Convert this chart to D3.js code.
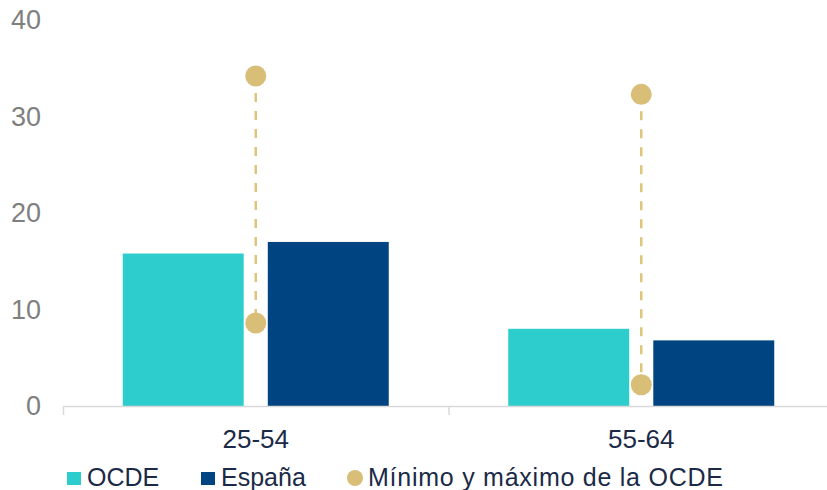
<!DOCTYPE html>
<html>
<head>
<meta charset="utf-8">
<script src="https://cdn.jsdelivr.net/npm/d3@7"></script>
<style>
  body { margin: 0; background: #fff; }
  svg { display: block; font-family: "Liberation Sans", Arial, sans-serif; }
</style>
</head>
<body>
<div id="chart"></div>
<script>
// data
var categories = ["25-54", "55-64"];
var seriesNames = ["OCDE", "España"];
var ocde = [15.8, 8.0];
var espana = [17.0, 6.8];
var ocdeMin = [8.6, 2.2];
var ocdeMax = [34.2, 32.3];
var yTicks = [0, 10, 20, 30, 40];
var legendLabels = ["OCDE", "España", "Mínimo y máximo de la OCDE"];

var width = 827, height = 490;
var colors = { "OCDE": "#2ECDCD", "España": "#004481" };
var dotColor = "#D8BE76";
var textDark = "#1B2A47";

var svg = d3.select("#chart").append("svg")
  .attr("width", width)
  .attr("height", height);

var y = d3.scaleLinear().domain([0, 40]).range([406, 20]);

var x0 = d3.scaleBand().domain(categories).range([63, 834]);
var x1 = d3.scaleBand().domain(seriesNames).range([-133, 133]).paddingInner(0.166);

// y labels
svg.append("g").selectAll("text")
  .data(yTicks)
  .enter().append("text")
  .attr("x", 41)
  .attr("y", function(d){ return y(d); })
  .attr("dy", "0.35em")
  .attr("text-anchor", "end")
  .attr("font-size", 27)
  .attr("fill", "#7F7F7F")
  .text(function(d){ return d; });

// bars
var rows = categories.map(function(c, i){
  return { cat: c, vals: [{ k: "OCDE", v: ocde[i] }, { k: "España", v: espana[i] }] };
});

var groups = svg.append("g").selectAll("g")
  .data(rows)
  .enter().append("g")
  .attr("transform", function(d){ return "translate(" + (x0(d.cat) + x0.bandwidth() / 2) + ",0)"; });

groups.selectAll("rect")
  .data(function(d){ return d.vals; })
  .enter().append("rect")
  .attr("x", function(d){ return x1(d.k); })
  .attr("width", x1.bandwidth())
  .attr("y", function(d){ return y(d.v); })
  .attr("height", function(d){ return y(0) - y(d.v); })
  .attr("fill", function(d){ return colors[d.k]; });

// x axis
var axis = svg.append("g");
axis.append("line")
  .attr("x1", 63).attr("x2", width)
  .attr("y1", 406.5).attr("y2", 406.5)
  .attr("stroke", "#D9D9D9").attr("stroke-width", 1.5);
axis.selectAll(".tk")
  .data([x0.range()[0]].concat(categories.slice(1).map(function(c){ return x0(c); })))
  .enter().append("line")
  .attr("class", "tk")
  .attr("x1", function(d){ return d + 0.5; }).attr("x2", function(d){ return d + 0.5; })
  .attr("y1", 406).attr("y2", 415)
  .attr("stroke", "#D9D9D9").attr("stroke-width", 1.5);
axis.selectAll("text")
  .data(categories)
  .enter().append("text")
  .attr("x", function(d){ return x0(d) + x0.bandwidth() / 2; })
  .attr("y", 448)
  .attr("text-anchor", "middle")
  .attr("font-size", 26)
  .attr("fill", textDark)
  .text(function(d){ return d; });

// min-max range
var ranges = categories.map(function(c, i){ return { cat: c, lo: ocdeMin[i], hi: ocdeMax[i] }; });
var rg = svg.append("g").selectAll("g")
  .data(ranges)
  .enter().append("g")
  .attr("transform", function(d){ return "translate(" + (x0(d.cat) + x0.bandwidth() / 2) + ",0)"; });

rg.append("line")
  .attr("x1", 0).attr("x2", 0)
  .attr("y1", function(d){ return y(d.hi) + 17; })
  .attr("y2", function(d){ return y(d.lo); })
  .attr("stroke", "#DEC57C")
  .attr("stroke-width", 2.5)
  .attr("stroke-dasharray", "9,9");

rg.selectAll("circle")
  .data(function(d){ return [d.hi, d.lo]; })
  .enter().append("circle")
  .attr("cx", 0)
  .attr("cy", function(d){ return y(d); })
  .attr("r", 10.5)
  .attr("fill", dotColor);

// legend
var legend = svg.append("g");
var lx = [67, 201, 347];
legend.append("rect").attr("x", lx[0]).attr("y", 472).attr("width", 14).attr("height", 13).attr("fill", colors["OCDE"]);
legend.append("rect").attr("x", lx[1]).attr("y", 472).attr("width", 14).attr("height", 13).attr("fill", colors["España"]);
legend.append("circle").attr("cx", lx[2] + 8).attr("cy", 478).attr("r", 8).attr("fill", dotColor);

legend.selectAll("text")
  .data(legendLabels)
  .enter().append("text")
  .attr("x", function(d, i){ return [87, 221, 368][i]; })
  .attr("y", 486)
  .attr("font-size", 25)
  .attr("letter-spacing", function(d, i){ return i == 2 ? 0.75 : 0; })
  .attr("fill", textDark)
  .text(function(d){ return d; });
</script>
</body>
</html>
